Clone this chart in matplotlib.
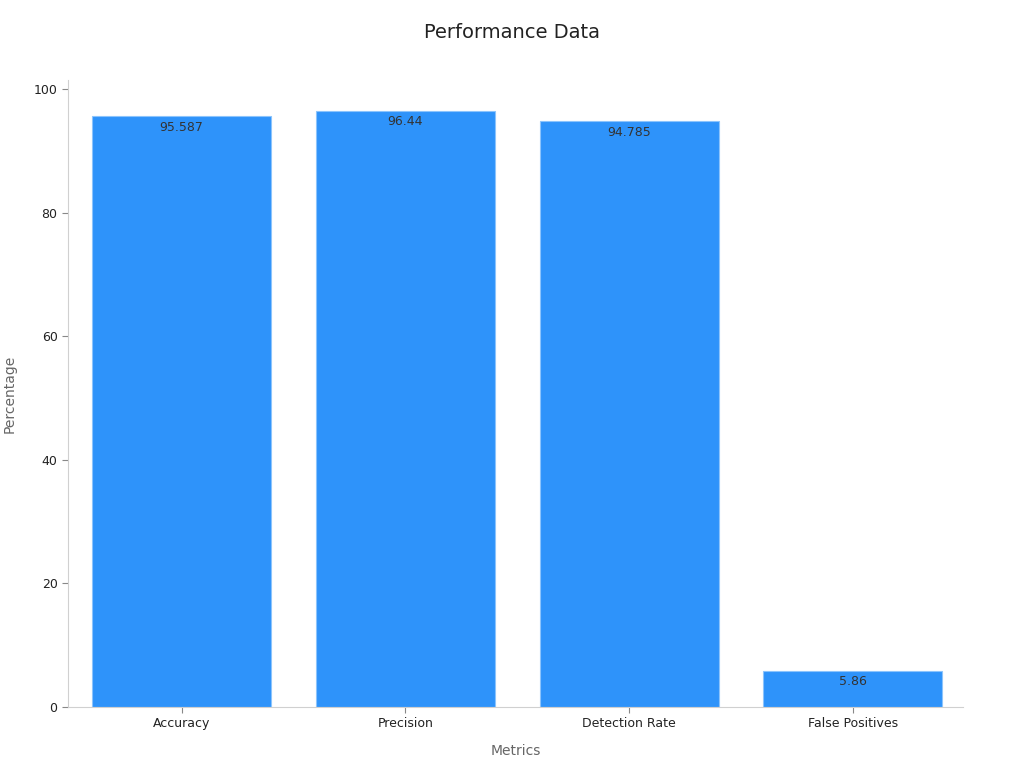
import matplotlib
matplotlib.use("Agg")
import matplotlib.pyplot as plt

CATEGORIES = ["Accuracy", "Precision", "Detection Rate", "False Positives"]
VALUES = [95.587, 96.44, 94.785, 5.86]
LABELS = ["95.587", "96.44", "94.785", "5.86"]
YTICKS = [0, 20, 40, 60, 80, 100]

BAR_COLOR = "#2E93FA"
SPINE_COLOR = "#D0D0D0"


def main():
	fig = plt.figure(figsize=(10.24, 7.68), dpi=100)
	ax = fig.add_axes([0.0664, 0.0794, 0.8740, 0.8166])

	x = list(range(len(CATEGORIES)))
	bars = ax.bar(x, VALUES, width=0.8, color=BAR_COLOR, edgecolor="#8CC4FC", linewidth=0.8)

	# value labels just inside the top of each bar
	for b, lab in zip(bars, LABELS):
		ax.annotate(lab, (b.get_x() + b.get_width() / 2, b.get_height()),
			xytext=(0, -3), textcoords="offset points",
			ha="center", va="top", fontsize=9, color="#333333")

	ax.set_xlim(-0.508, 3.492)
	ax.set_ylim(0, 101.5)
	ax.set_xticks(x)
	ax.set_xticklabels(CATEGORIES)
	ax.set_yticks(YTICKS)
	ax.tick_params(labelsize=9, colors="#222222", length=4)
	ax.tick_params(axis="both", color="#888888")

	for s in ["top", "right"]:
		ax.spines[s].set_visible(False)
	for s in ["left", "bottom"]:
		ax.spines[s].set_color(SPINE_COLOR)

	ax.set_xlabel("Metrics", fontsize=10, color="#666666", labelpad=10)
	ax.set_ylabel("Percentage", fontsize=10, color="#666666", labelpad=12)
	fig.suptitle("Performance Data", fontsize=14, color="#222222", y=0.97)

	fig.savefig("out.png", dpi=100)


if __name__ == "__main__":
	main()
